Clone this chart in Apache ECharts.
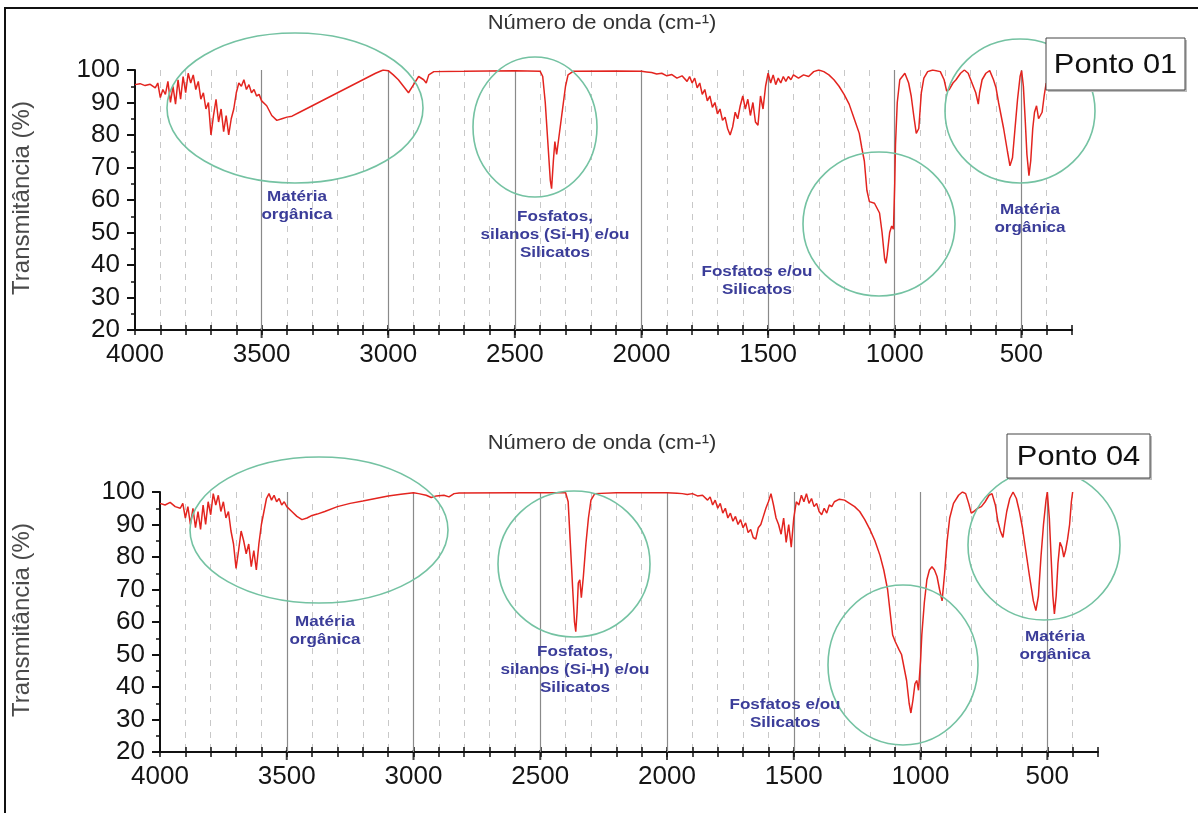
<!DOCTYPE html>
<html>
<head>
<meta charset="utf-8">
<script src="https://cdn.jsdelivr.net/npm/echarts@6/dist/echarts.min.js"></script>
<style>
html,body{margin:0;padding:0;background:#fff;}
#c{width:1198px;height:813px;}
</style>
</head>
<body>
<div id="c"></div>
<script>
// ---- Data: Ponto 01 (wavenumber cm-1, transmittance %) ----
const wn1 = [4000,3980,3960,3940,3920,3910,3900,3890,3880,3870,3860,3850,3840,3830,3820,3810,3800,3790,3780,3770,3760,3750,3740,3730,3720,3710,3700,3690,3680,3670,3660,3650,3640,3630,3620,3610,3600,3590,3580,3570,3560,3550,3540,3530,3520,3510,3500,3480,3460,3440,3420,3400,3380,3350,3300,3250,3200,3150,3100,3050,3020,3000,2980,2960,2940,2920,2900,2880,2860,2850,2840,2820,2700,2600,2500,2400,2390,2380,2370,2360,2355,2348,2342,2335,2325,2315,2300,2290,2270,2100,2000,1980,1960,1940,1920,1900,1880,1860,1840,1820,1810,1800,1790,1780,1770,1760,1750,1740,1730,1720,1710,1700,1690,1680,1670,1660,1650,1640,1630,1620,1610,1600,1590,1580,1570,1560,1550,1540,1530,1520,1510,1500,1490,1480,1470,1460,1450,1440,1430,1420,1410,1400,1380,1360,1340,1320,1300,1280,1260,1240,1220,1200,1180,1160,1140,1130,1120,1110,1100,1080,1060,1050,1040,1035,1030,1020,1012,1005,1000,997,990,980,960,945,935,925,915,905,895,885,870,850,820,805,795,785,770,758,740,725,710,700,690,680,670,665,655,640,625,610,600,590,570,555,545,535,525,515,505,499,492,485,478,470,463,455,448,440,432,425,418,410,402];
const t1 = [95.5,95.8,95.2,95.6,94.5,96,91.5,94,92.5,96.5,90,95,89.5,97,91,98,93,99,96,98.5,94,96.5,91,93,88,90,80,86,91,84,88,81,86,80,85,88,93,96,95,97,94,95.5,93,94,92,92.5,90.5,89,86,84.5,85,85.5,85.8,87,89,91,93,95,97,99,100,99.8,98.5,97,95,93,95.5,98,97,96,98.5,99.5,99.6,99.7,99.8,99.6,98,90,78,66,63.5,72,78,74,80,86,95,98.5,99.6,99.7,99.6,99.4,99.2,98.8,99,98.2,98.6,97.5,98.2,96.5,98,96,97.5,94.5,96,92.5,94,90.5,92,88.5,90,86.5,88,84.5,85.5,82,80,82.5,87,85,89,92,88,91,86,90,84,83,92,88,95,99,96,98.5,95.5,97.5,96,98,96.5,98,97,98.5,97.5,98.5,98,99.5,100,99.5,98.5,97,95,92.5,89.5,85,80.5,76,72,63,59.5,59,56,50,42,40.5,43,50,52,51,65,77,90,97,99,96,92,86,80.5,82,93,97.5,99.5,100,99.5,97,93.5,94,96,97,99,100,99,97,95,93,89.5,93,97,99,99.8,97,94.5,90,82,75,70.5,73,82,91,98,99.8,95,85,74,67.5,72,82,87,89,85,84.5,87,92,96];

// ---- Data: Ponto 04 ----
const wn2 = [4000,3980,3960,3940,3920,3910,3900,3890,3880,3870,3860,3850,3840,3830,3820,3810,3800,3790,3780,3770,3760,3750,3740,3730,3720,3710,3700,3690,3680,3670,3660,3650,3640,3630,3620,3610,3600,3590,3580,3570,3560,3550,3540,3530,3520,3510,3500,3480,3460,3440,3420,3400,3380,3350,3300,3250,3200,3150,3100,3050,3000,2980,2950,2930,2910,2880,2860,2840,2820,2600,2400,2390,2382,2372,2365,2360,2355,2350,2344,2338,2330,2320,2310,2300,2285,2200,2000,1960,1940,1920,1900,1880,1860,1840,1830,1820,1810,1800,1790,1780,1770,1760,1750,1740,1730,1720,1710,1700,1690,1680,1670,1660,1650,1640,1630,1620,1610,1600,1590,1580,1570,1560,1550,1540,1530,1520,1510,1500,1490,1480,1470,1460,1450,1440,1430,1420,1410,1400,1390,1380,1370,1360,1350,1340,1320,1300,1280,1260,1240,1220,1200,1180,1160,1145,1130,1120,1110,1100,1085,1075,1065,1055,1045,1038,1030,1022,1015,1008,1000,995,985,975,965,955,945,935,925,915,905,895,885,870,850,835,822,810,800,790,775,760,745,730,718,705,695,685,675,668,660,648,635,622,610,598,585,570,555,545,535,525,515,505,500,492,485,478,472,465,458,450,442,435,428,420,412,405,400];
const t2 = [96.5,96,96.8,95.5,95,96.5,92,95.5,90,95,89,94,88.5,96,90,97,93,99.5,96,99,94,97,92,94,88,84,76.5,82,88,85,81,84,77,82,76,84,90,94,98,99.5,97.5,99,97,98,96,97,95.5,94,92.5,91.5,92,92.8,93.2,94,95.5,96.5,97.2,98,98.8,99.3,99.8,99.5,99,98.3,98.8,99,98.5,99.5,99.7,99.8,99.8,97,85,70,60,57,63,72,73,67.5,74,84,92,97.5,99.5,99.8,99.8,99.6,99.5,99.2,99.5,98.8,99,97.5,98.5,96,97.5,95,96.5,93.5,95,92,93.5,91,92.5,90,91.5,89,90.5,87.5,88.5,86,85.5,89,90,92.5,95,97,99.5,96,92,90,87,92,84.5,90,83,92,97,96,99,97,99.5,96.5,98,95.5,96.5,94,93,95,93.5,96,95.5,97,97.8,97.5,96.5,95.5,94,91.5,88.5,85,80.5,76,70,63,56,54,51.5,50,46,42,35,32,36,41,42,39,48,56,66,73,76,77,76,74,70,66.5,75,85,92,96.5,99,100,99.5,96.5,93.5,94,95,95.5,97,99,99.5,96,91,88,86,90,94,98,100,98,94,89,82,74,66.5,63.5,68,80,90,97.5,100,92,80,68,62.5,68,78,84.5,83,80,82,85.5,90,97,100];

// ---- Axis ticks ----
const xMin = 300, xMax = 4000;
const xLabels = [4000, 3500, 3000, 2500, 2000, 1500, 1000, 500];
const majorLines = [3500, 3000, 2500, 2000, 1500, 1000, 500];
const yMin = 20, yMax = 100;

const FONT = 'Arial, "Liberation Sans", sans-serif';
const chart = echarts.init(document.getElementById('c'), null, {renderer: 'canvas'});

const grids = [
  {left: 135, right: 126, top: 70, bottom: 483},
  {left: 160, right: 100, top: 492, bottom: 61}
];

function xAxes(g) {
  return [
    {
      type: 'value', gridIndex: g, min: xMin, max: xMax, interval: 100, inverse: true, position: 'bottom',
      axisLine: {show: true, onZero: false, lineStyle: {color: '#111', width: 2}},
      axisTick: {show: true, inside: false, length: 5, lineStyle: {color: '#111', width: 1.5}},
      axisLabel: {show: true, margin: 12, fontSize: 26, color: '#151515', fontFamily: FONT,
        formatter: v => (xLabels.indexOf(v) >= 0 ? String(v) : '')},
      splitLine: {show: true, showMinLine: false, showMaxLine: false,
        lineStyle: {color: '#c8c8c8', width: 1, type: [6, 6]}}
    },
    {
      type: 'value', gridIndex: g, min: xMin, max: xMax, interval: 100, inverse: true, position: 'bottom',
      axisLine: {show: false, onZero: false},
      axisTick: {show: true, inside: true, length: 5, lineStyle: {color: '#111', width: 1.5}},
      axisLabel: {show: false},
      splitLine: {show: false}
    }
  ];
}

function yAxis(g) {
  return {
    type: 'value', gridIndex: g, min: yMin, max: yMax, interval: 10,
    axisLine: {show: true, onZero: false, lineStyle: {color: '#111', width: 2}},
    axisTick: {show: true, inside: false, length: 8, lineStyle: {color: '#111', width: 2}},
    minorTick: {show: true, splitNumber: 2, length: 4, lineStyle: {color: '#111', width: 1.5}},
    axisLabel: {show: true, margin: 15, fontSize: 26, color: '#151515', fontFamily: FONT},
    splitLine: {show: false}
  };
}

function spectrum(g, wn, t) {
  return {
    type: 'line', xAxisIndex: g * 2, yAxisIndex: g, z: 5,
    data: wn.map((w, i) => [w, t[i]]),
    showSymbol: false, symbol: 'none', smooth: false,
    lineStyle: {color: '#e3241f', width: 1.5},
    animation: false, silent: true
  };
}

function majors(g) {
  return {
    type: 'scatter', xAxisIndex: g * 2, yAxisIndex: g, z: 2,
    data: majorLines.map(v => [v, yMin]),
    symbol: 'rect', symbolSize: [2, 10], symbolOffset: [0, 3],
    itemStyle: {color: '#111'}, clip: false, silent: true, animation: false,
    markLine: {
      silent: true, symbol: 'none', animation: false, label: {show: false},
      lineStyle: {color: '#8a8a8a', width: 1.2, type: 'solid'},
      data: majorLines.map(v => ({xAxis: v}))
    }
  };
}

const green = '#74c2a2';
const blue = '#3b3d99';
function ell(cx, cy, rx, ry) {
  return {type: 'ellipse', shape: {cx, cy, rx, ry}, style: {fill: 'none', stroke: green, lineWidth: 1.6}, z: 10};
}
function note(x, y, text) {
  return {type: 'text', x, y, scaleX: 1.22, z: 11, style: {text, fill: blue, font: 'bold 14px ' + FONT, textAlign: 'center', textVerticalAlign: 'top', lineHeight: 18}};
}
function ttl(x, y, text) {
  return {type: 'text', x, y, scaleX: 1.1, z: 11, style: {text, fill: '#333', font: '20px ' + FONT, textAlign: 'center', textVerticalAlign: 'middle'}};
}
function yname(x, y) {
  return {type: 'text', x, y, rotation: Math.PI / 2, z: 11, style: {text: 'Transmitância (%)', fill: '#4a4a4a', font: '24px ' + FONT, textAlign: 'center', textVerticalAlign: 'middle'}};
}
function box(x, y, w, h, text) {
  return [
    {type: 'rect', shape: {x: x + 2, y: y + 2, width: w, height: h}, style: {fill: '#bdbdbd'}, z: 12},
    {type: 'rect', shape: {x, y, width: w, height: h}, style: {fill: '#fff', stroke: '#444', lineWidth: 1}, z: 13},
    {type: 'text', x: x + w / 2, y: y + h / 2 + 1, scaleX: 1.1, z: 14, style: {text, fill: '#111', font: '28px ' + FONT, textAlign: 'center', textVerticalAlign: 'middle'}}
  ];
}

const option = {
  animation: false,
  backgroundColor: '#fff',
  grid: grids,
  xAxis: [...xAxes(0), ...xAxes(1)],
  yAxis: [yAxis(0), yAxis(1)],
  series: [spectrum(0, wn1, t1), majors(0), spectrum(1, wn2, t2), majors(1)],
  graphic: [
    {type: 'rect', shape: {x: 5, y: 8, width: 1210, height: 820}, style: {fill: 'none', stroke: '#111', lineWidth: 2}, z: 20},
    ttl(602, 23, 'Número de onda (cm-¹)'),
    ttl(602, 443, 'Número de onda (cm-¹)'),
    yname(22, 198),
    yname(22, 620),
    ell(295, 108, 128, 75),
    ell(535, 127, 62, 70),
    ell(879, 224, 76, 72),
    ell(1020, 111, 75, 72),
    ell(319, 530, 129, 73),
    ell(574, 564, 76, 73),
    ell(903, 665, 75, 80),
    ell(1044, 545, 76, 75),
    note(297, 188, 'Matéria\norgânica'),
    note(555, 208, 'Fosfatos,\nsilanos (Si-H) e/ou\nSilicatos'),
    note(757, 263, 'Fosfatos e/ou\nSilicatos'),
    note(1030, 201, 'Matéria\norgânica'),
    note(325, 613, 'Matéria\norgânica'),
    note(575, 643, 'Fosfatos,\nsilanos (Si-H) e/ou\nSilicatos'),
    note(785, 696, 'Fosfatos e/ou\nSilicatos'),
    note(1055, 628, 'Matéria\norgânica'),
    ...box(1046, 38, 139, 52, 'Ponto 01'),
    ...box(1007, 434, 143, 44, 'Ponto 04')
  ]
};
chart.setOption(option);
</script>
</body>
</html>
